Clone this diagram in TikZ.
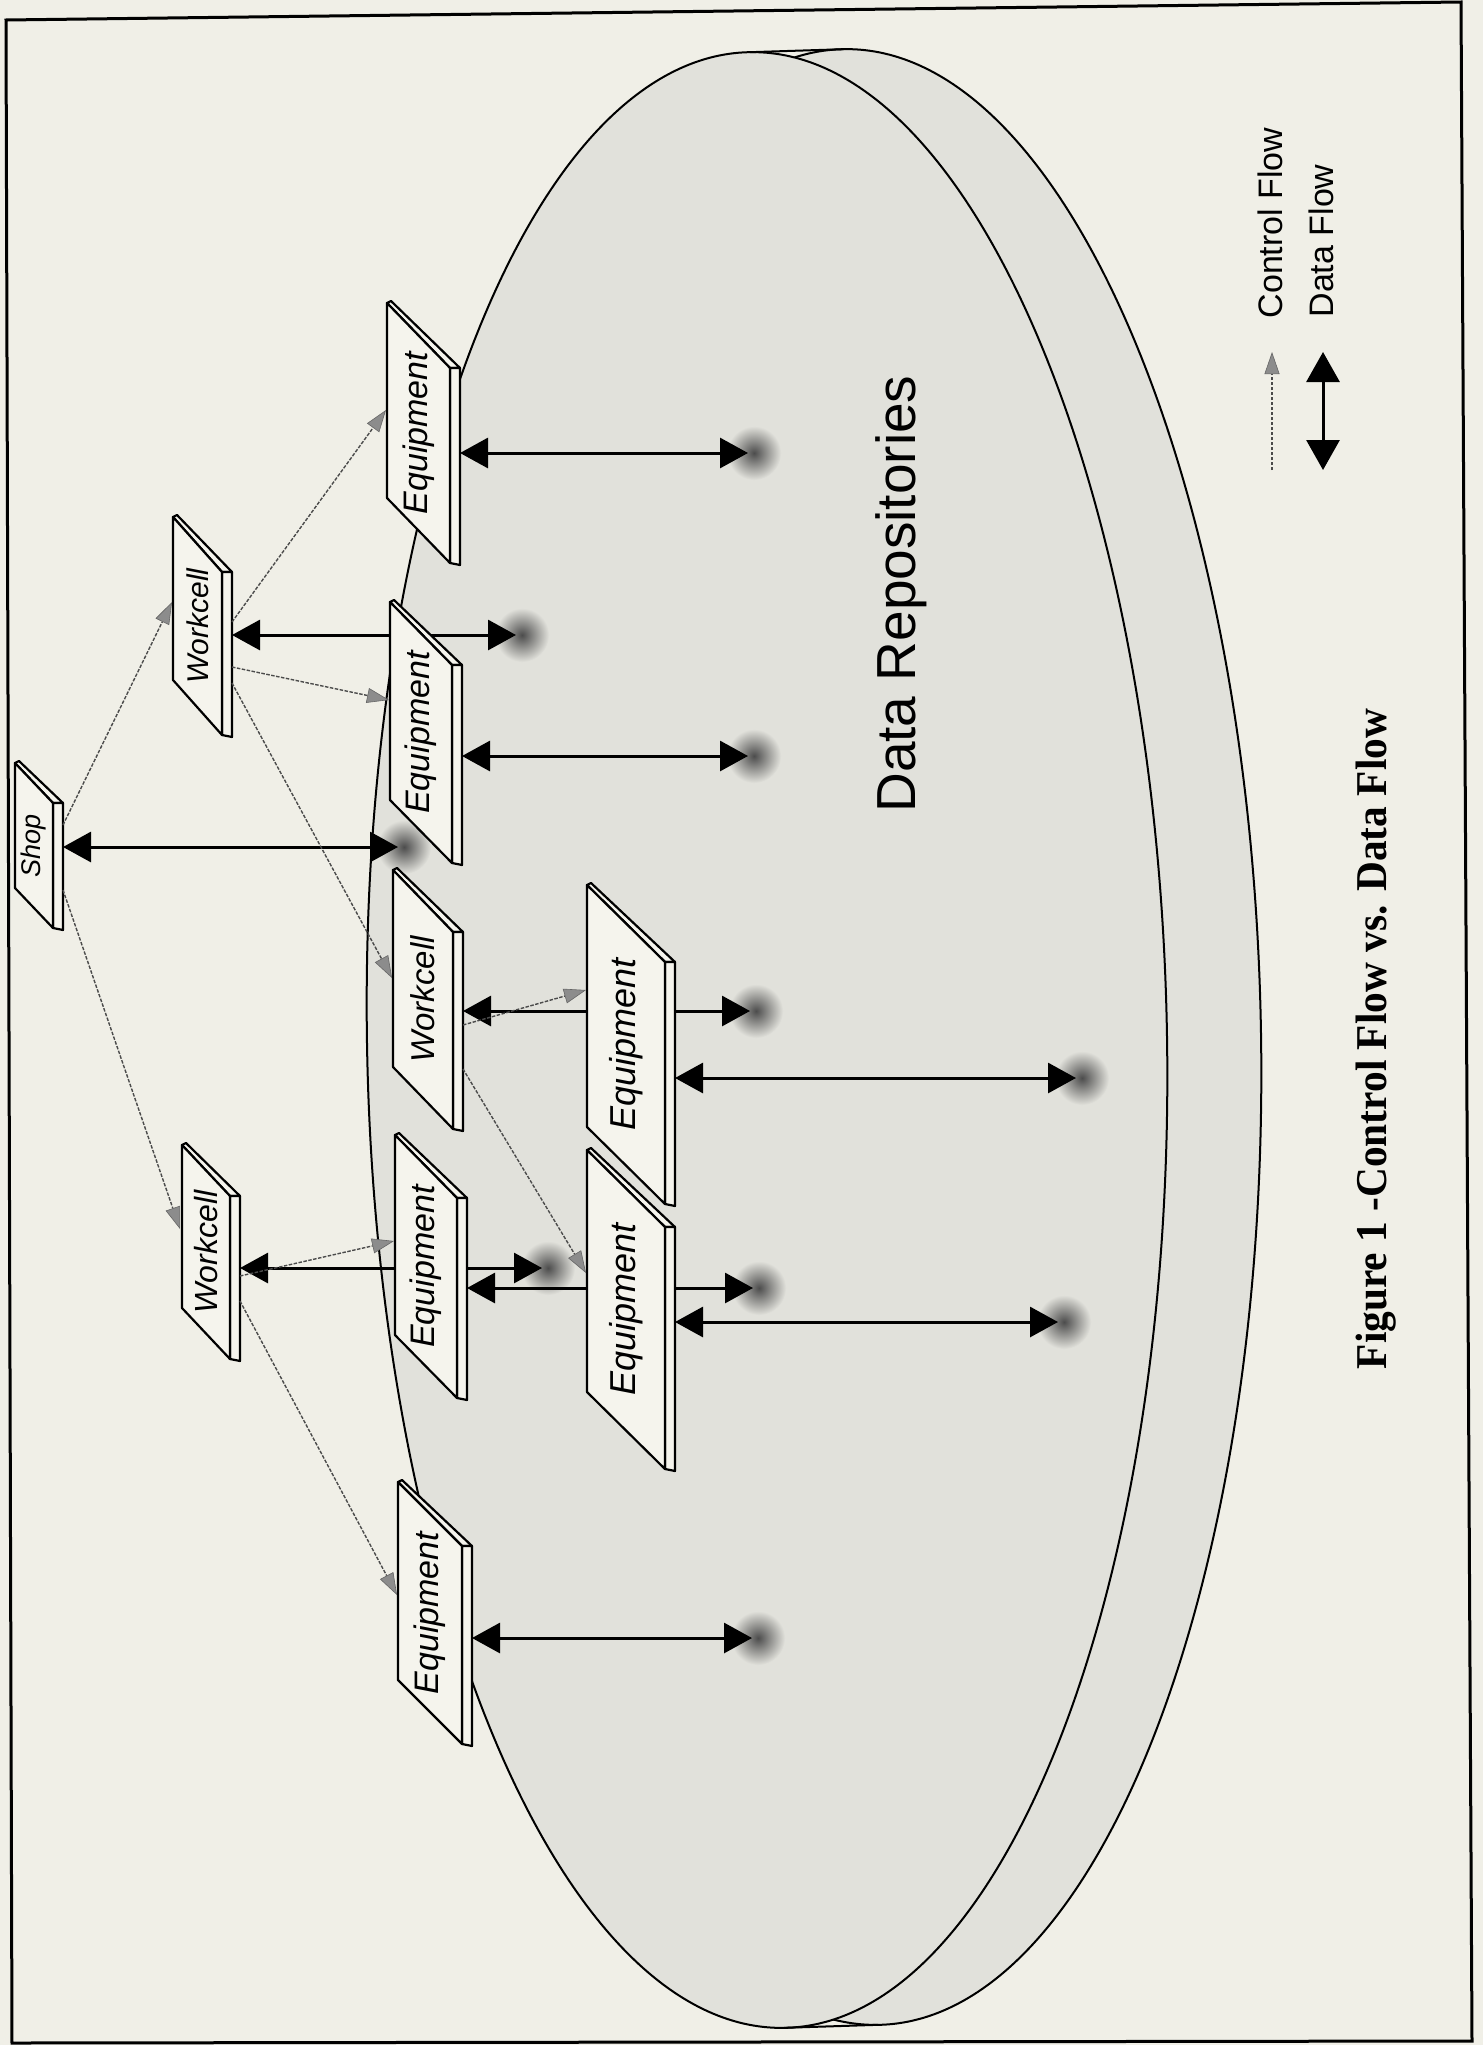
\documentclass[tikz,border=0pt]{standalone}
\usepackage{fontspec}
\setmainfont{Liberation Sans}
\newfontfamily\hv{Liberation Sans}
\newfontfamily\tms{Liberation Serif}
\usetikzlibrary{arrows.meta}
\definecolor{paper}{RGB}{240,239,231}
\definecolor{disk}{RGB}{225,225,219}
\definecolor{slabfill}{RGB}{245,244,237}
\definecolor{ctrl}{RGB}{75,75,75}
\tikzset{
  slabline/.style={draw=black, line width=2.2pt, line join=round, fill=slabfill},
  slablabel/.style={rotate=90, inner sep=0pt},
  dataflow/.style={draw=black, line width=3pt, shorten >=6pt,
     {Triangle[length=28pt,width=30pt]}-{Triangle[length=28pt,width=30pt]}},
  legdata/.style={draw=black, line width=3pt,
     {Triangle[length=30pt,width=33pt]}-{Triangle[length=30pt,width=33pt]}},
  ctrlflow/.style={draw=ctrl, line width=1.4pt, dash pattern=on 3.5pt off 1.5pt,
     -{Triangle[length=22pt,width=15pt,fill=black!45,color=black!60,line width=0.6pt]}},
  blob/.style={circle, minimum size=54pt, inner sep=0pt, shade, inner color=black!70, outer color=disk},
  rim/.style={draw=black, line width=2pt, fill=disk}
}
% #1 name, #2 x0, #3 y0, #4 w, #5 slant, #6 h, #7 font size, #8 label
\newcommand\slab[8]{%
  \draw[slabline] ({#2},{#3}) -- ({#2+4},{#3-2}) -- ({#2+#4+10},{#3+#5}) -- ({#2+#4},{#3+#5}) -- cycle;
  \draw[slabline] ({#2+#4},{#3+#5}) -- ({#2+#4+10},{#3+#5}) -- ({#2+#4+10},{#3+#5+#6+2}) -- ({#2+#4},{#3+#5+#6}) -- cycle;
  \draw[slabline] ({#2},{#3}) -- ({#2+#4},{#3+#5}) -- ({#2+#4},{#3+#5+#6}) -- ({#2},{#3+#6}) -- cycle;
  \node[slablabel, font=\hv\itshape\fontsize{#7}{#7}\selectfont] (#1) at ({#2+#4/2},{#3+#5/2+#6/2}) {#8};
}
\begin{document}
\begin{tikzpicture}[x=1pt,y=-1pt]
\useasboundingbox (0,0) rectangle (1483,2045);
\fill[paper] (0,0) rectangle (1483,2045);
\draw[line width=3pt] (6,20) -- (1461,2) -- (1472,2041) -- (12,2043) -- cycle;

% disk
\draw[rim, rotate around={1:(861,1037)}] (861,1037) ellipse [x radius=400, y radius=988];
\draw[rim, rotate around={1:(767,1040)}] (767,1040) ellipse [x radius=400, y radius=988];
\coordinate (ft) at (749.8,52.2); \coordinate (bt) at (843.8,49.2);
\coordinate (fb) at (784.2,2027.8); \coordinate (bb) at (878.2,2024.8);
\draw[line width=2pt] (ft) -- (bt);
\draw[line width=2pt] (fb) -- (bb);

\node[rotate=90, inner sep=0pt, font=\hv\fontsize{55}{55}\selectfont] (repo) at (901,594) {Data Repositories};

% repositories
\node[blob] (bS) at (404,847) {};
\node[blob] (bW1) at (522,635) {};
\node[blob] (bE1) at (754,453) {};
\node[blob] (bE2) at (754,756) {};
\node[blob] (bW2) at (756,1011) {};
\node[blob] (bE4) at (1082,1078) {};
\node[blob] (bW3) at (548,1268) {};
\node[blob] (bE3) at (759,1288) {};
\node[blob] (bE5) at (1064,1322) {};
\node[blob] (bE6) at (758,1638) {};

% data flow endpoints on the slabs
\coordinate (dS) at (63,847);
\coordinate (dW1) at (232,635);
\coordinate (dE1) at (460,453);
\coordinate (dE2) at (462,756);
\coordinate (dW2) at (463,1011);
\coordinate (dE4) at (675,1078);
\coordinate (dW3) at (240,1268);
\coordinate (dE3) at (467,1288);
\coordinate (dE5) at (675,1322);
\coordinate (dE6) at (472,1638);

\draw[dataflow] (dS) -- (bS.center);
\draw[dataflow] (dW1) -- (bW1.center);
\draw[dataflow] (dE1) -- (bE1.center);
\draw[dataflow] (dE2) -- (bE2.center);
\draw[dataflow] (dW2) -- (bW2.center);
\draw[dataflow] (dE4) -- (bE4.center);
\draw[dataflow] (dW3) -- (bW3.center);
\draw[dataflow] (dE3) -- (bE3.center);
\draw[dataflow] (dE5) -- (bE5.center);
\draw[dataflow] (dE6) -- (bE6.center);

% slabs
\slab{Shop}{15}{763}{38}{40}{125}{27}{Shop}
\slab{W1}{173}{517}{49}{55}{163}{30}{Workcell}
\slab{W2}{393}{870}{60}{62}{197}{33}{Workcell}
\slab{W3}{182}{1145}{48}{51}{163}{32}{Workcell}
\slab{E1}{387}{303}{63}{65}{195}{34}{Equipment}
\slab{E2}{390}{602}{62}{63}{198}{34}{Equipment}
\slab{E3}{395}{1135}{62}{63}{200}{34}{Equipment}
\slab{E4}{587}{885}{78}{77}{242}{36}{Equipment}
\slab{E5}{587}{1150}{78}{77}{242}{36}{Equipment}
\slab{E6}{398}{1482}{64}{64}{198}{34}{Equipment}

% control flow
\coordinate (cS1) at (63,825);   \coordinate (tW1) at (172,602);
\coordinate (cS2) at (63,890);   \coordinate (tW3) at (180,1229);
\coordinate (cW1a) at (232,622); \coordinate (tE1) at (386,410);
\coordinate (cW1b) at (232,667); \coordinate (tE2) at (389,700);
\coordinate (cW1c) at (232,683); \coordinate (tW2) at (392,978);
\coordinate (cW2a) at (463,1025); \coordinate (tE4) at (586,990);
\coordinate (cW2b) at (463,1069); \coordinate (tE5) at (586,1273);
\coordinate (cW3a) at (240,1276); \coordinate (tE3) at (394,1241);
\coordinate (cW3b) at (240,1301); \coordinate (tE6) at (397,1595);
\draw[ctrlflow] (cS1) -- (tW1);
\draw[ctrlflow] (cS2) -- (tW3);
\draw[ctrlflow] (cW1a) -- (tE1);
\draw[ctrlflow] (cW1b) -- (tE2);
\draw[ctrlflow] (cW1c) -- (tW2);
\draw[ctrlflow] (cW2a) -- (tE4);
\draw[ctrlflow] (cW2b) -- (tE5);
\draw[ctrlflow] (cW3a) -- (tE3);
\draw[ctrlflow] (cW3b) -- (tE6);

% legend
\coordinate (lc1) at (1272,470); \coordinate (lc2) at (1272,352);
\draw[ctrlflow] (lc1) -- (lc2);
\coordinate (ld1) at (1323,352); \coordinate (ld2) at (1323,470);
\draw[legdata] (ld1) -- (ld2);
\node[rotate=90, inner sep=0pt, font=\hv\fontsize{34}{34}\selectfont] (lgc) at (1270,223) {Control Flow};
\node[rotate=90, inner sep=0pt, font=\hv\fontsize{34}{34}\selectfont] (lgd) at (1321,241) {Data Flow};

% caption
\node[rotate=90, inner sep=0pt, font=\tms\bfseries\fontsize{44}{44}\selectfont] (cap) at (1376,1039) {\scalebox{0.94}[1]{Figure 1 -Control Flow vs. Data Flow}};
\end{tikzpicture}
\end{document}
